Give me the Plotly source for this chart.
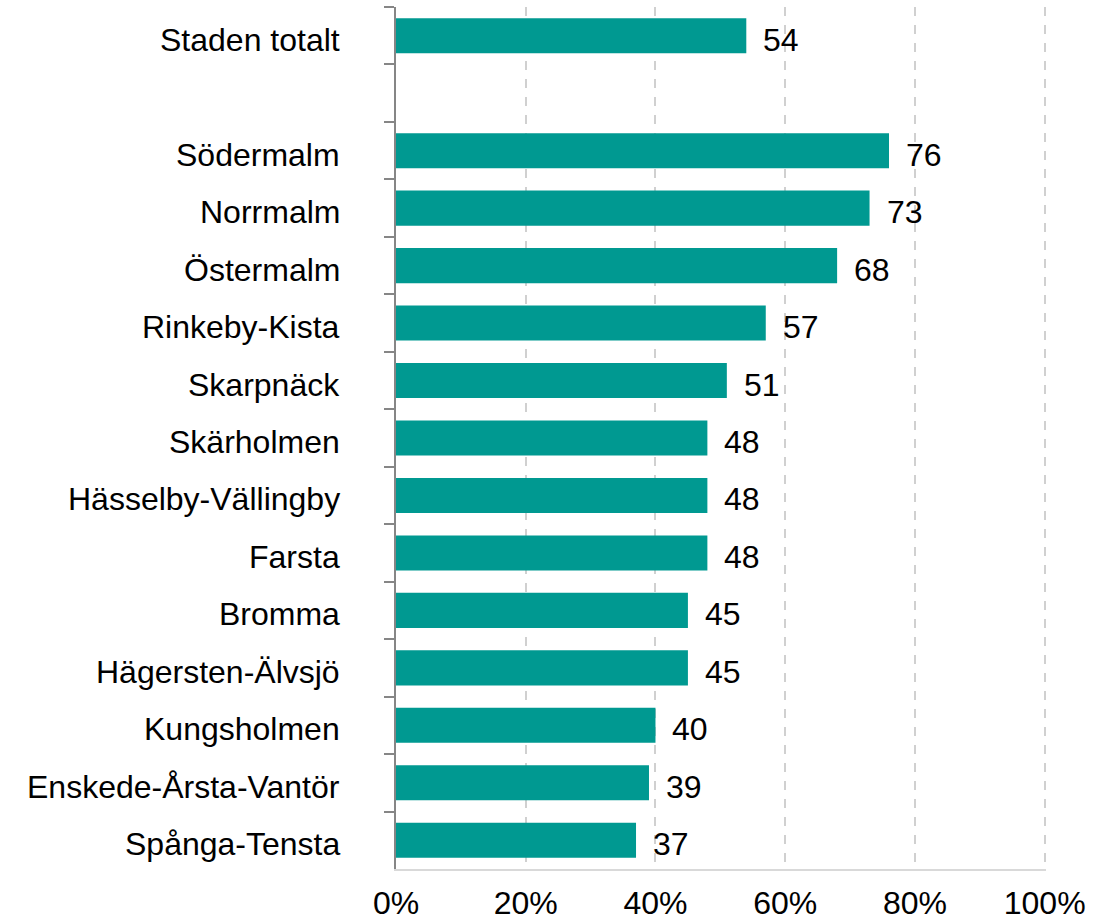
import plotly.graph_objects as go

# Andel per stadsdelsområde (procent), med en tom rad efter staden totalt
categories = [
    "Staden totalt", " ",
    "Södermalm", "Norrmalm", "Östermalm", "Rinkeby-Kista", "Skarpnäck",
    "Skärholmen", "Hässelby-Vällingby", "Farsta", "Bromma",
    "Hägersten-Älvsjö", "Kungsholmen", "Enskede-Årsta-Vantör", "Spånga-Tensta",
]
values = [54, None, 76, 73, 68, 57, 51, 48, 48, 48, 45, 45, 40, 39, 37]
x_ticks = [0, 20, 40, 60, 80, 100]
x_tick_labels = ["0%", "20%", "40%", "60%", "80%", "100%"]

FONT = "Liberation Sans, Arial, sans-serif"
FONT_SIZE = 32
BAR_COLOR = "#009991"

fig = go.Figure(
    go.Bar(
        x=values,
        y=categories,
        orientation="h",
        marker=dict(color=BAR_COLOR, line=dict(width=0)),
        hoverinfo="skip",
    )
)

for cat, val in zip(categories, values):
    # Kategorietiketter till vänster om axeln
    if cat.strip():
        fig.add_annotation(
            x=0, xref="paper", y=cat, text=cat, showarrow=False,
            xanchor="right", xshift=-54, yshift=-4,
            font=dict(family=FONT, size=FONT_SIZE, color="#000000"),
        )
    # Värdeetiketter till höger om staplarna
    if val is not None:
        fig.add_annotation(
            x=val, y=cat, text=str(val), showarrow=False,
            xanchor="left", xshift=15, yshift=-4,
            font=dict(family=FONT, size=FONT_SIZE, color="#000000"),
        )

fig.update_layout(
    width=1117, height=923,
    margin=dict(l=396, r=71, t=7, b=54),
    paper_bgcolor="white", plot_bgcolor="white",
    bargap=0.39,
    showlegend=False,
    font=dict(family=FONT, size=FONT_SIZE, color="#000000"),
)

fig.update_xaxes(
    range=[0, 100.2],
    tickvals=x_ticks, ticktext=x_tick_labels,
    showgrid=True, gridcolor="#d0d0d0", gridwidth=1.5, griddash="dash",
    showline=True, linecolor="#d9d9d9", linewidth=2,
    ticks="", zeroline=False,
    tickfont=dict(family=FONT, size=FONT_SIZE, color="#000000"),
    ticklabelstandoff=5,
    automargin=False,
    fixedrange=True,
)

fig.update_yaxes(
    type="category",
    categoryorder="array", categoryarray=categories,
    autorange="reversed",
    showline=True, linecolor="#868686", linewidth=2,
    ticks="outside", ticklen=10, tickcolor="#868686", tickwidth=2,
    tickson="boundaries",
    showticklabels=False,
    showgrid=False, zeroline=False,
    automargin=False,
    fixedrange=True,
)

fig.write_html("out.html")
